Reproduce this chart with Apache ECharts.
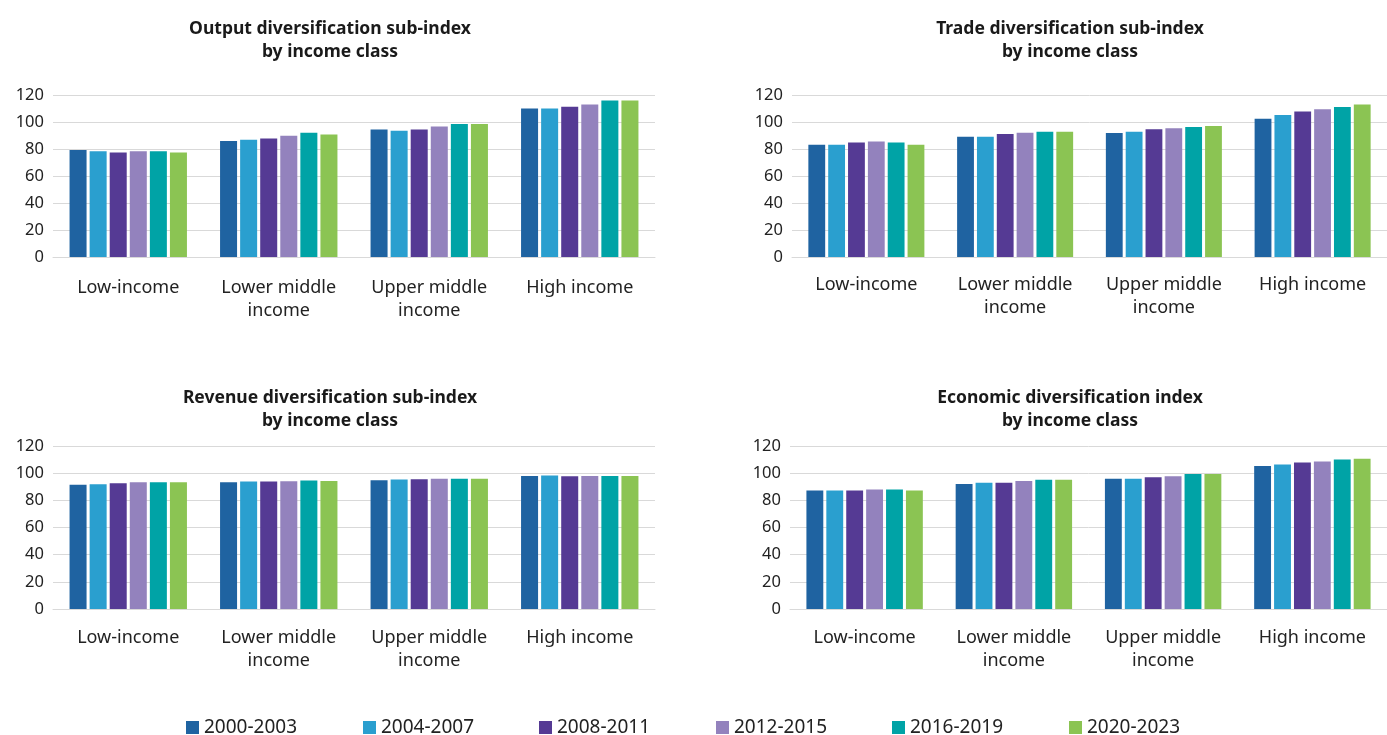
<!DOCTYPE html>
<html>
<head>
<meta charset="utf-8">
<title>Economic diversification by income class</title>
<script src="https://cdn.jsdelivr.net/npm/echarts@6/dist/echarts.min.js"></script>
<style>
  html, body { margin: 0; padding: 0; background: #ffffff; }
  #chart { width: 1387px; height: 735px; }
</style>
</head>
<body>
<div id="chart"></div>
<script>
// Income classes on each category axis
const categories = ['Low-income', 'Lower middle\nincome', 'Upper middle\nincome', 'High income'];

// Periods shown as bar series
const periods = ['2000-2003', '2004-2007', '2008-2011', '2012-2015', '2016-2019', '2020-2023'];
const periodColors = ['#1f63a1', '#2a9fcf', '#553a94', '#9382bd', '#00a3a6', '#8bc453'];

// Y-axis ticks
const yTicks = [0, 20, 40, 60, 80, 100, 120];

// Index values: one row per period, one entry per income class
const outputIndex = [
  [79.3, 86.0, 94.5, 110.0],
  [78.3, 86.8, 93.6, 110.0],
  [77.5, 87.8, 94.5, 111.3],
  [78.3, 89.8, 96.6, 113.0],
  [78.3, 92.0, 98.6, 116.0],
  [77.5, 90.8, 98.6, 116.0]
];
const tradeIndex = [
  [83.2, 89.1, 91.8, 102.5],
  [83.2, 89.1, 92.8, 105.2],
  [84.9, 91.1, 94.6, 107.7],
  [85.6, 92.1, 95.3, 109.4],
  [84.9, 92.8, 96.3, 111.1],
  [83.2, 92.8, 97.0, 112.9]
];
const revenueIndex = [
  [91.4, 93.3, 94.8, 98.0],
  [91.9, 93.8, 95.3, 98.3],
  [92.6, 93.8, 95.6, 97.8],
  [93.3, 94.1, 95.8, 98.0],
  [93.3, 94.6, 95.8, 98.0],
  [93.3, 94.3, 95.8, 98.0]
];
const economicIndex = [
  [87.2, 92.1, 95.8, 105.2],
  [87.2, 92.9, 95.8, 106.4],
  [87.2, 92.9, 97.0, 107.9],
  [87.9, 94.3, 97.8, 108.6],
  [87.9, 95.1, 99.3, 110.1],
  [87.2, 95.1, 99.3, 110.6]
];

const panelTitles = [
  'Output diversification sub-index\nby income class',
  'Trade diversification sub-index\nby income class',
  'Revenue diversification sub-index\nby income class',
  'Economic diversification index\nby income class'
];
const panelData = [outputIndex, tradeIndex, revenueIndex, economicIndex];

const FONT = '"Noto Sans", "Open Sans", sans-serif';
const TEXT = '#222222';
const GRID_LINE = '#d9d9d9';

// Panel layout: plot rectangles, title centres and label offsets
const panels = [
  { left: 53,  top: 95,  width: 602, height: 162, titleX: 330,  titleY: 18,  labelMargin: 19 },
  { left: 792, top: 95,  width: 595, height: 162, titleX: 1070, titleY: 18,  labelMargin: 16 },
  { left: 53,  top: 446, width: 602, height: 163, titleX: 330,  titleY: 387, labelMargin: 17 },
  { left: 790, top: 446, width: 597, height: 163, titleX: 1070, titleY: 387, labelMargin: 17 }
];

// Legend entries sit on an even pitch along the bottom
const legendStart = 186;
const legendPitch = 176.5;

const grid = [], xAxis = [], yAxis = [], title = [], series = [];

panels.forEach((p, i) => {
  grid.push({ left: p.left, top: p.top, width: p.width, height: p.height, containLabel: false });
  title.push({
    text: panelTitles[i],
    left: p.titleX,
    top: p.titleY,
    padding: 0,
    textAlign: 'center',
    textStyle: { fontFamily: FONT, fontSize: 17.5, fontWeight: 'bold', color: '#1a1a1a', lineHeight: 23 }
  });
  xAxis.push({
    type: 'category',
    gridIndex: i,
    data: categories,
    axisLine: { show: true, lineStyle: { color: GRID_LINE, width: 1 } },
    axisTick: { show: false },
    axisLabel: { fontFamily: FONT, fontSize: 18, color: TEXT, lineHeight: 23, margin: p.labelMargin, interval: 0 }
  });
  yAxis.push({
    type: 'value',
    gridIndex: i,
    min: yTicks[0],
    max: yTicks[yTicks.length - 1],
    interval: yTicks[1] - yTicks[0],
    axisLine: { show: false },
    axisTick: { show: false },
    splitLine: { lineStyle: { color: GRID_LINE, width: 1 } },
    axisLabel: { fontFamily: FONT, fontSize: 16.5, color: TEXT, margin: 9 }
  });
  periods.forEach((name, s) => {
    series.push({
      name: name,
      type: 'bar',
      xAxisIndex: i,
      yAxisIndex: i,
      data: panelData[i][s],
      barGap: '18%',
      barCategoryGap: '22%',
      itemStyle: { color: periodColors[s] },
      emphasis: { disabled: true }
    });
  });
});

const legend = periods.map((name, s) => ({
  data: [name],
  left: Math.round(legendStart + s * legendPitch),
  top: 718,
  padding: 0,
  itemWidth: 13,
  itemHeight: 13,
  itemGap: 0,
  icon: 'rect',
  selectedMode: false,
  textStyle: { fontFamily: FONT, fontSize: 19, color: TEXT }
}));

const chart = echarts.init(document.getElementById('chart'), null, { renderer: 'canvas' });
chart.setOption({
  backgroundColor: '#ffffff',
  animation: false,
  color: periodColors,
  title: title,
  grid: grid,
  xAxis: xAxis,
  yAxis: yAxis,
  legend: legend,
  series: series
});
</script>
</body>
</html>
